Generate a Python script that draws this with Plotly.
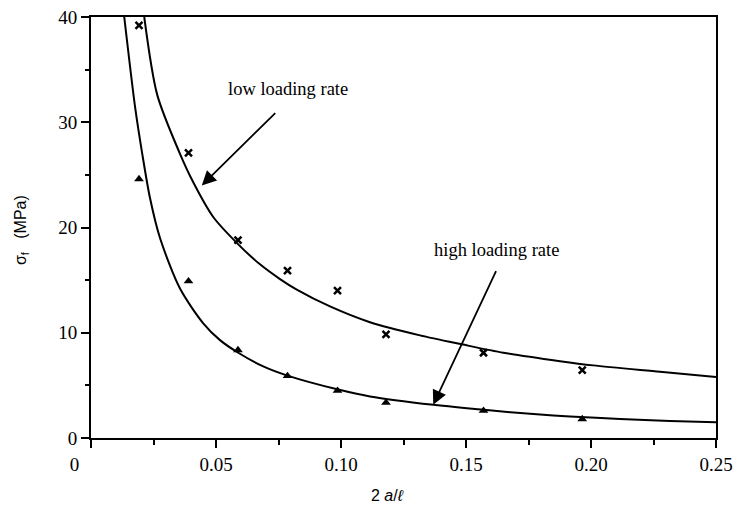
import plotly.graph_objects as go

# ---- data ----
crack_ratio = [0.0192, 0.0390, 0.0588, 0.0786, 0.0986, 0.1180, 0.1570, 0.1965]
low_rate_stress = [39.2, 27.1, 18.8, 15.9, 14.0, 9.85, 8.1, 6.45]
high_rate_stress = [24.6, 14.9, 8.35, 5.9, 4.5, 3.35, 2.6, 1.8]

low_fit_x = [0.0213, 0.0265, 0.0356, 0.0409, 0.0489, 0.0589, 0.0676, 0.0756, 0.0823,
             0.0956, 0.1116, 0.1316, 0.1483, 0.165, 0.1876, 0.2009, 0.2276, 0.25]
low_fit_y = [40, 32.6, 27.0, 24.3, 21.0, 18.4, 16.5, 15.1, 14.1,
             12.5, 11.0, 9.75, 8.9, 8.1, 7.3, 6.9, 6.3, 5.8]

high_fit_x = [0.0133, 0.0176, 0.0205, 0.0236, 0.0276, 0.0356, 0.0449, 0.0516, 0.0589, 0.0689,
              0.0783, 0.0989, 0.1116, 0.137, 0.1583, 0.1783, 0.1916, 0.2116, 0.2316, 0.25]
high_fit_y = [40, 31.5, 27.0, 22.8, 19.0, 14.2, 10.9, 9.3, 8.1, 6.8,
              5.95, 4.6, 3.95, 3.15, 2.65, 2.25, 2.05, 1.8, 1.62, 1.5]

x_tick_vals = [0, 0.05, 0.10, 0.15, 0.20, 0.25]
x_tick_text = ["0" + "\u00a0" * 7, "0.05", "0.10", "0.15", "0.20", "0.25"]
y_tick_vals = [0, 10, 20, 30, 40]

SERIF = "Liberation Serif"
SANS = "Liberation Sans"

fig = go.Figure()

fig.add_trace(go.Scatter(x=low_fit_x, y=low_fit_y, mode="lines",
                         line=dict(color="black", width=2, shape="spline", smoothing=0.8),
                         showlegend=False, hoverinfo="skip"))
fig.add_trace(go.Scatter(x=high_fit_x, y=high_fit_y, mode="lines",
                         line=dict(color="black", width=2, shape="spline", smoothing=0.8),
                         showlegend=False, hoverinfo="skip"))
fig.add_trace(go.Scatter(x=crack_ratio, y=low_rate_stress, mode="markers",
                         marker=dict(symbol="x-thin", size=7, color="black",
                                     line=dict(color="black", width=2.5)),
                         showlegend=False))
fig.add_trace(go.Scatter(x=crack_ratio, y=high_rate_stress, mode="markers",
                         marker=dict(symbol="triangle-up", size=8.5, color="black"),
                         showlegend=False))

# arrows
fig.add_annotation(x=0.0443, y=24.0, ax=0.0743, ay=31.0, xref="x", yref="y",
                   axref="x", ayref="y", text="", showarrow=True,
                   arrowhead=2, arrowsize=1.6, arrowwidth=1.8, arrowcolor="black")
fig.add_annotation(x=0.1369, y=3.16, ax=0.1623, ay=16.0, xref="x", yref="y",
                   axref="x", ayref="y", text="", showarrow=True,
                   arrowhead=2, arrowsize=1.6, arrowwidth=1.8, arrowcolor="black")

# labels
fig.add_annotation(x=0.0788, y=33.2, xref="x", yref="y", text="low loading rate",
                   showarrow=False, font=dict(family=SERIF, size=18.5, color="black"))
fig.add_annotation(x=0.1623, y=17.9, xref="x", yref="y", text="high loading rate",
                   showarrow=False, font=dict(family=SERIF, size=18.5, color="black"))

# axis titles
fig.add_annotation(x=-0.112, y=0.494, xref="paper", yref="paper", xanchor="center",
                   text="σ<sub>f</sub>   (MPa)", textangle=-90, showarrow=False,
                   font=dict(family=SANS, size=16, color="black"))
fig.add_annotation(x=0.475, y=-0.112, xref="paper", yref="paper", yanchor="top",
                   text="2 <i>a</i>/<i>ℓ</i>", showarrow=False,
                   font=dict(family=SANS, size=16, color="black"))

fig.update_layout(
    width=738, height=515,
    margin=dict(l=91, r=22, t=17, b=77, autoexpand=False),
    paper_bgcolor="white", plot_bgcolor="white",
    xaxis=dict(range=[0, 0.25], tickmode="array", tickvals=x_tick_vals, ticktext=x_tick_text,
               automargin=False,
               ticks="outside", ticklen=8, tickwidth=1.5, tickcolor="black",
               minor=dict(tickmode="linear", tick0=0, dtick=0.025, ticks="outside",
                          ticklen=5, tickwidth=1.5, tickcolor="black"),
               showline=True, linecolor="black", linewidth=2, mirror=True,
               showgrid=False, zeroline=False,
               tickfont=dict(family=SERIF, size=19, color="black")),
    yaxis=dict(range=[0, 40], tickmode="array", tickvals=y_tick_vals,
               automargin=False,
               ticks="outside", ticklen=8, tickwidth=1.5, tickcolor="black",
               minor=dict(tickmode="linear", tick0=0, dtick=5, ticks="outside",
                          ticklen=4, tickwidth=1.5, tickcolor="black"),
               showline=True, linecolor="black", linewidth=2, mirror=True,
               showgrid=False, zeroline=False,
               tickfont=dict(family=SERIF, size=19, color="black")),
)

fig.write_html("out.html")
